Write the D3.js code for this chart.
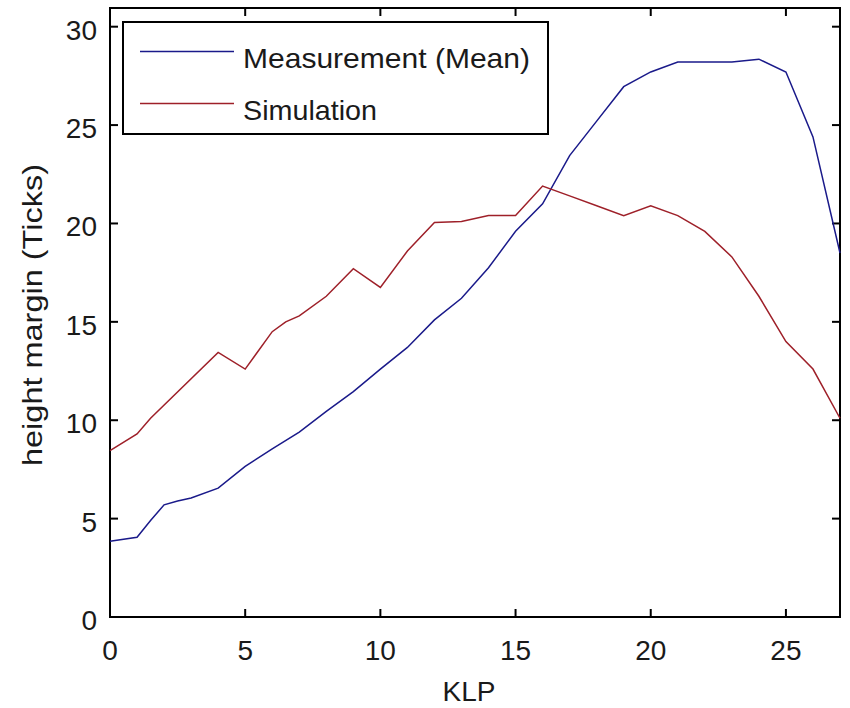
<!DOCTYPE html>
<html>
<head>
<meta charset="utf-8">
<script src="https://cdn.jsdelivr.net/npm/d3@7"></script>
<style>
  body { margin: 0; background: #fff; }
  text { font-family: "Liberation Sans", Arial, sans-serif; fill: #1a1a1a; }
</style>
</head>
<body>
<svg id="chart" width="850" height="708"></svg>
<script>
/* values */
var measKlp = [0, 1, 1.5, 2, 2.5, 3, 4, 5, 6, 7, 8, 9, 10, 11, 12, 13, 14, 15, 16, 17, 18, 19, 20, 21, 22, 23, 24, 25, 26, 27];
var measVals = [3.85, 4.05, 4.9, 5.7, 5.9, 6.05, 6.55, 7.65, 8.55, 9.4, 10.45, 11.45, 12.6, 13.7, 15.1, 16.2, 17.75, 19.6, 21.0, 23.45, 25.2, 26.95, 27.7, 28.2, 28.2, 28.2, 28.35, 27.7, 24.4, 18.5];

var simKlp = [0, 1, 1.5, 4, 5, 6, 6.5, 7, 8, 9, 10, 11, 12, 13, 14, 15, 16, 17, 18, 19, 20, 21, 22, 23, 24, 25, 26, 27];
var simVals = [8.45, 9.3, 10.1, 13.45, 12.6, 14.5, 15.0, 15.3, 16.3, 17.7, 16.75, 18.6, 20.05, 20.1, 20.4, 20.4, 21.9, 21.4, 20.9, 20.4, 20.9, 20.4, 19.6, 18.3, 16.3, 14.0, 12.6, 10.1];

var xTicks = [0, 5, 10, 15, 20, 25];
var yTicks = [0, 5, 10, 15, 20, 25, 30];
var seriesNames = ["Measurement (Mean)", "Simulation"];
var seriesColors = ["#1a1a8a", "#9e2029"];

var svg = d3.select("#chart");
var pLeft = 110, pRight = 840, pTop = 8, pBottom = 617;

var x = d3.scaleLinear().domain([0, 27]).range([pLeft, pRight]);
var y = d3.scaleLinear().domain([0, 30.95]).range([pBottom, pTop]);

var tickLen = 8;

// plot box
svg.append("rect")
  .attr("x", pLeft).attr("y", pTop)
  .attr("width", pRight - pLeft).attr("height", pBottom - pTop)
  .attr("fill", "none").attr("stroke", "#000").attr("stroke-width", 2);

// inside ticks on all four sides
xTicks.forEach(function(t){
  svg.append("line").attr("x1", x(t)).attr("x2", x(t)).attr("y1", pBottom).attr("y2", pBottom - tickLen).attr("stroke", "#000").attr("stroke-width", 2);
  svg.append("line").attr("x1", x(t)).attr("x2", x(t)).attr("y1", pTop).attr("y2", pTop + tickLen).attr("stroke", "#000").attr("stroke-width", 2);
  svg.append("text").attr("x", x(t)).attr("y", 660)
    .attr("text-anchor", "middle").style("font-size", "28px").text(t);
});
yTicks.forEach(function(t){
  svg.append("line").attr("x1", pLeft).attr("x2", pLeft + tickLen).attr("y1", y(t)).attr("y2", y(t)).attr("stroke", "#000").attr("stroke-width", 2);
  svg.append("line").attr("x1", pRight).attr("x2", pRight - tickLen).attr("y1", y(t)).attr("y2", y(t)).attr("stroke", "#000").attr("stroke-width", 2);
  svg.append("text").attr("x", 97).attr("y", y(t) + 13)
    .attr("text-anchor", "end").style("font-size", "28px").text(t);
});

// axis labels
svg.append("text").attr("x", 469).attr("y", 701)
  .attr("text-anchor", "middle").style("font-size", "28px").text("KLP");
svg.append("text")
  .attr("transform", "translate(42,315) rotate(-90)")
  .attr("text-anchor", "middle").style("font-size", "28px")
  .attr("textLength", 302).attr("lengthAdjust", "spacingAndGlyphs")
  .text("height margin (Ticks)");

// lines
var line = d3.line().x(function(d){ return x(d[0]); }).y(function(d){ return y(d[1]); });
var meas = d3.zip(measKlp, measVals);
var sim = d3.zip(simKlp, simVals);

svg.append("path").datum(meas).attr("d", line)
  .attr("fill", "none").attr("stroke", seriesColors[0]).attr("stroke-width", 1.5);
svg.append("path").datum(sim).attr("d", line)
  .attr("fill", "none").attr("stroke", seriesColors[1]).attr("stroke-width", 1.5);

// legend
var legendWidths = [287, 134];
var lg = svg.append("g");
lg.append("rect").attr("x", 123).attr("y", 22).attr("width", 425).attr("height", 112)
  .attr("fill", "#fff").attr("stroke", "#000").attr("stroke-width", 2);
seriesNames.forEach(function(name, i){
  var ly = 51.5 + i * 52;
  lg.append("line").attr("x1", 140).attr("x2", 234).attr("y1", ly).attr("y2", ly)
    .attr("stroke", seriesColors[i]).attr("stroke-width", 1.5);
  lg.append("text").attr("x", 243).attr("y", ly + 16)
    .style("font-size", "28px")
    .attr("textLength", legendWidths[i]).attr("lengthAdjust", "spacingAndGlyphs")
    .text(name);
});
</script>
</body>
</html>
